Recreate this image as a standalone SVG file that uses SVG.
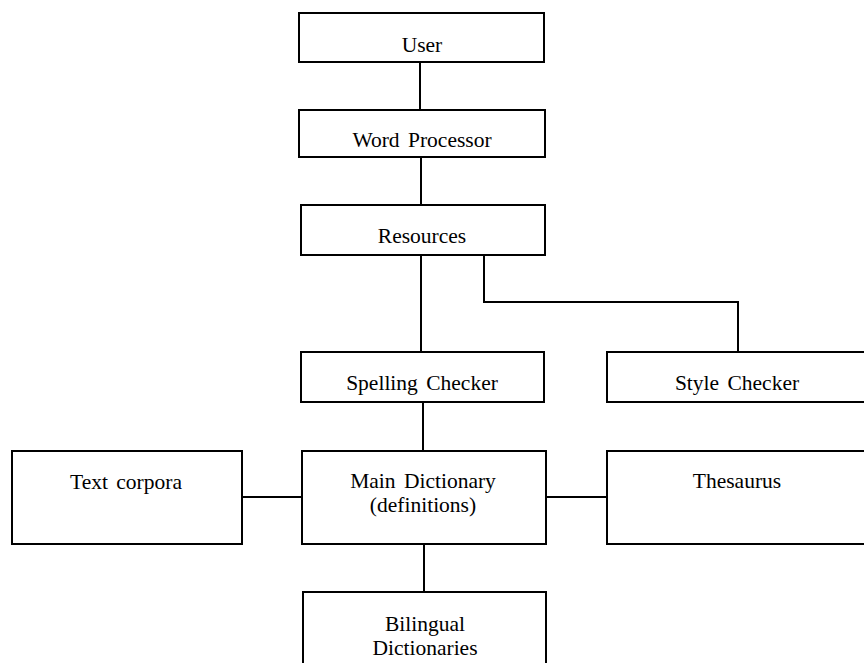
<svg xmlns="http://www.w3.org/2000/svg" width="864" height="663" viewBox="0 0 864 663">
<style>
.box{fill:#fff;stroke:#000;stroke-width:2}
.lbl{font-family:"Liberation Serif","Times New Roman",serif;font-size:21.5px;fill:#000;text-anchor:middle;word-spacing:3px}
.conn{fill:none;stroke:#000;stroke-width:2}
</style>
<rect width="864" height="663" fill="#fff"/>
<g id="connectors">
<line class="conn" x1="420" y1="62" x2="420" y2="110"/>
<line class="conn" x1="421" y1="157" x2="421" y2="205"/>
<line class="conn" x1="421" y1="255" x2="421" y2="352"/>
<polyline class="conn" points="484,255 484,302 738,302 738,352"/>
<line class="conn" x1="423" y1="402" x2="423" y2="451"/>
<line class="conn" x1="242" y1="497" x2="302" y2="497"/>
<line class="conn" x1="546" y1="497" x2="607" y2="497"/>
<line class="conn" x1="424" y1="544" x2="424" y2="592"/>
</g>
<g id="user">
<rect class="box" x="299" y="13" width="245" height="49"/>
<text class="lbl" x="422" y="52">User</text>
</g>
<g id="word-processor">
<rect class="box" x="299" y="110" width="246" height="47"/>
<text class="lbl" x="422" y="147">Word Processor</text>
</g>
<g id="resources">
<rect class="box" x="301" y="205" width="244" height="50"/>
<text class="lbl" x="422" y="243">Resources</text>
</g>
<g id="spelling-checker">
<rect class="box" x="301" y="352" width="243" height="50"/>
<text class="lbl" x="422" y="390">Spelling Checker</text>
</g>
<g id="style-checker">
<rect class="box" x="607" y="352" width="262" height="50"/>
<text class="lbl" x="737" y="390">Style Checker</text>
</g>
<g id="text-corpora">
<rect class="box" x="12" y="451" width="230" height="93"/>
<text class="lbl" x="126" y="489">Text corpora</text>
</g>
<g id="main-dictionary">
<rect class="box" x="302" y="451" width="244" height="93"/>
<text class="lbl" x="423" y="488">Main Dictionary</text>
<text class="lbl" x="423" y="512">(definitions)</text>
</g>
<g id="thesaurus">
<rect class="box" x="607" y="451" width="262" height="93"/>
<text class="lbl" x="737" y="488">Thesaurus</text>
</g>
<g id="bilingual-dictionaries">
<rect class="box" x="303" y="592" width="243" height="80"/>
<text class="lbl" x="425" y="631">Bilingual</text>
<text class="lbl" x="425" y="655">Dictionaries</text>
</g>
</svg>
